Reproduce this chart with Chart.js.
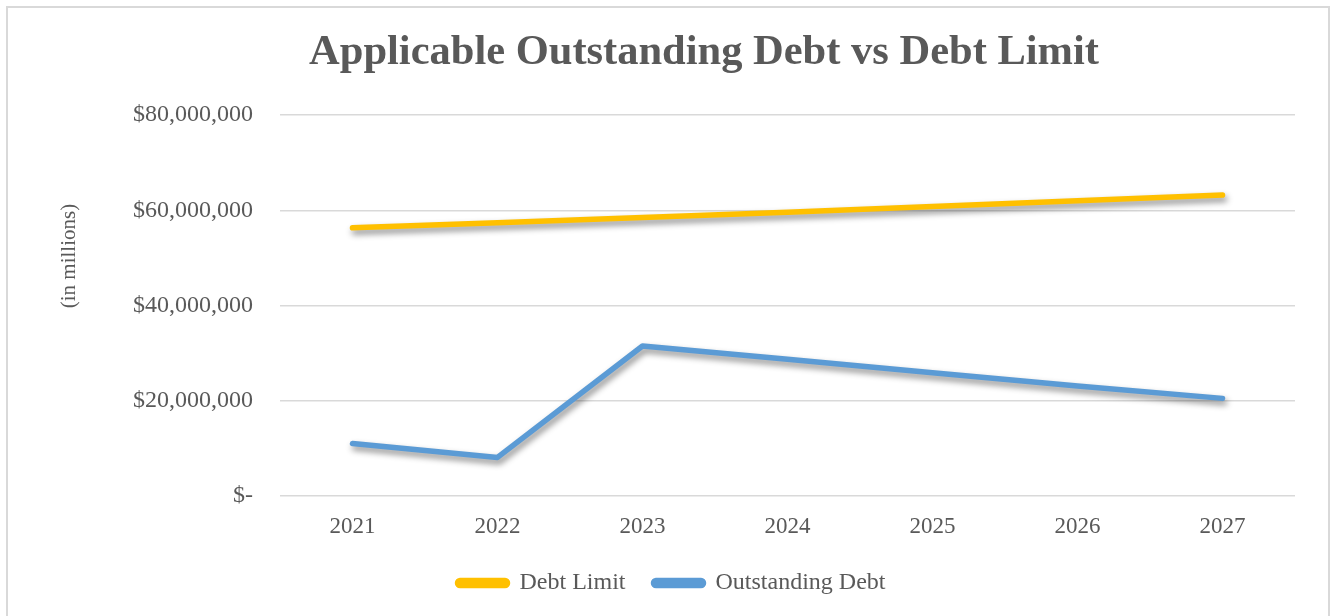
<!DOCTYPE html>
<html>
<head>
<meta charset="utf-8">
<script src="https://cdn.jsdelivr.net/npm/chart.js@4"></script>
<style>
  html, body { margin: 0; padding: 0; background: #ffffff; }
  #wrap { position: absolute; left: 0; top: 0; width: 1336px; height: 616px; }
</style>
</head>
<body>
<div id="wrap"><canvas id="c" width="1336" height="616"></canvas></div>
<script>
const categories = ['2021', '2022', '2023', '2024', '2025', '2026', '2027'];
const debtLimit = [56300000, 57400000, 58500000, 59600000, 60800000, 62000000, 63200000];
const outstandingDebt = [11000000, 8100000, 31500000, 28700000, 25900000, 23100000, 20500000];
const yTicks = [0, 20000000, 40000000, 60000000, 80000000];
const titleText = 'Applicable Outstanding Debt vs Debt Limit';
const yAxisTitle = '(in millions)';

const GREY = '#595959';
const SERIF = '"Liberation Serif", "Times New Roman", serif';

function fmtMoney(v) {
  if (v === 0) return '$-';
  return '$' + v.toLocaleString('en-US');
}

const frame = {
  id: 'frame',
  beforeDraw(chart) {
    const ctx = chart.ctx;
    ctx.save();
    ctx.fillStyle = '#ffffff';
    ctx.fillRect(0, 0, chart.width, chart.height);
    ctx.strokeStyle = '#d9d9d9';
    ctx.lineWidth = 2;
    ctx.strokeRect(7, 7, 1322, 700);
    ctx.restore();
  },
  afterDraw(chart) {
    const ctx = chart.ctx;
    ctx.save();
    // chart title
    ctx.fillStyle = GREY;
    ctx.font = 'bold 42.5px ' + SERIF;
    ctx.textAlign = 'center';
    ctx.textBaseline = 'alphabetic';
    ctx.fillText(titleText, 704, 64);
    // y axis title
    ctx.translate(69, 256);
    ctx.rotate(-Math.PI / 2);
    ctx.font = '21px ' + SERIF;
    ctx.textBaseline = 'middle';
    ctx.fillText(yAxisTitle, 0, 0);
    ctx.restore();
  }
};

const shadow = {
  id: 'shadow',
  beforeDatasetDraw(chart) {
    const ctx = chart.ctx;
    ctx.save();
    ctx.shadowColor = 'rgba(0,0,0,0.45)';
    ctx.shadowBlur = 6;
    ctx.shadowOffsetX = 2;
    ctx.shadowOffsetY = 4;
  },
  afterDatasetDraw(chart) {
    chart.ctx.restore();
  }
};

new Chart(document.getElementById('c'), {
  type: 'line',
  data: {
    labels: categories,
    datasets: [
      {
        label: 'Debt Limit',
        data: debtLimit,
        borderColor: '#FFC000',
        backgroundColor: '#FFC000',
        borderWidth: 5.5,
        borderCapStyle: 'round',
        borderJoinStyle: 'round',
        pointRadius: 0,
        tension: 0
      },
      {
        label: 'Outstanding Debt',
        data: outstandingDebt,
        borderColor: '#5B9BD5',
        backgroundColor: '#5B9BD5',
        borderWidth: 5.5,
        borderCapStyle: 'round',
        borderJoinStyle: 'round',
        pointRadius: 0,
        tension: 0
      }
    ]
  },
  options: {
    responsive: false,
    animation: false,
    layout: { padding: { left: 48, right: 41, top: 115, bottom: 11 } },
    plugins: {
      title: { display: false },
      legend: {
        position: 'bottom',
        labels: {
          color: GREY,
          font: { family: SERIF, size: 24 },
          boxWidth: 50,
          boxHeight: 5,
          useBorderRadius: true,
          borderRadius: 2.5,
          padding: 28
        }
      },
      tooltip: { enabled: false }
    },
    scales: {
      x: {
        offset: true,
        grid: { display: false },
        border: { display: false },
        ticks: {
          color: GREY,
          font: { family: SERIF, size: 23 },
          padding: 9
        },
        afterFit(scale) { scale.height = 47; }
      },
      y: {
        min: 0,
        max: 80000000,
        afterBuildTicks(scale) { scale.ticks = yTicks.map(v => ({ value: v })); },
        grid: { color: '#d9d9d9', lineWidth: 1.5, drawTicks: false },
        border: { display: false },
        ticks: {
          color: GREY,
          font: { family: SERIF, size: 24 },
          padding: 27,
          callback: (v) => fmtMoney(v)
        },
        afterFit(scale) { scale.width = 232; }
      }
    }
  },
  plugins: [frame, shadow]
});
</script>
</body>
</html>
